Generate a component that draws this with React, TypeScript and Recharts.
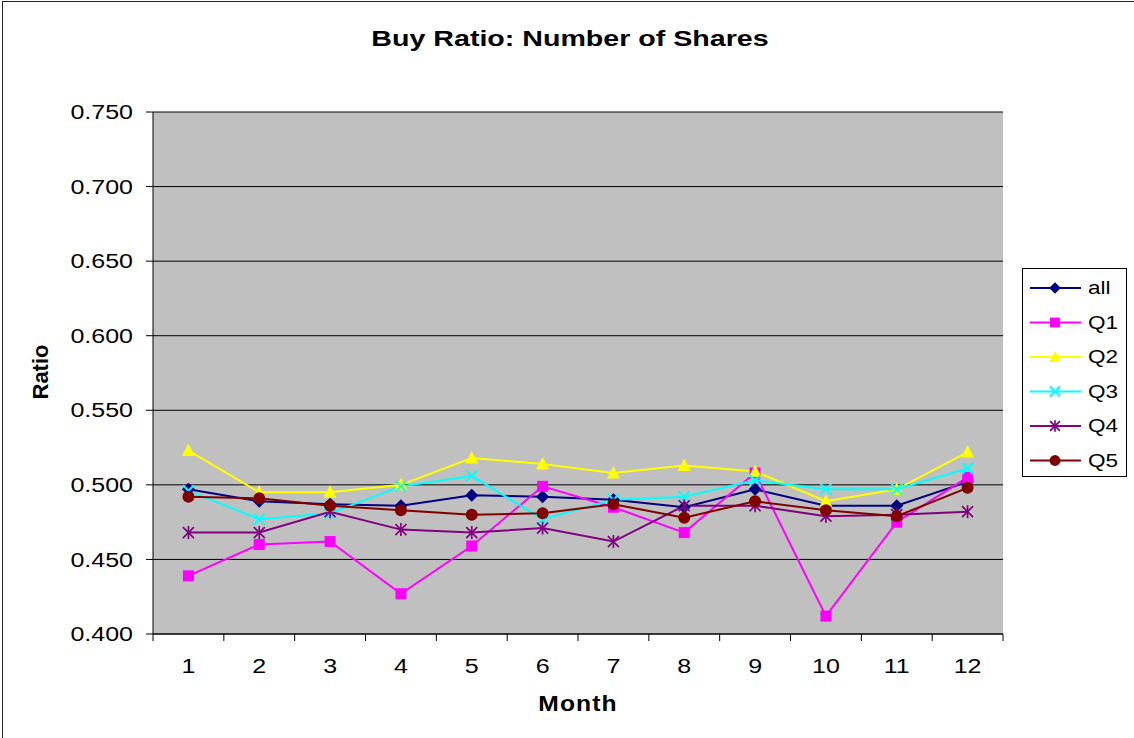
import React from 'react';
import { LineChart, Line, XAxis, YAxis, CartesianGrid } from 'recharts';

const months = [1, 2, 3, 4, 5, 6, 7, 8, 9, 10, 11, 12];
const allSeries = [0.497, 0.489, 0.487, 0.486, 0.493, 0.492, 0.490, 0.485, 0.497, 0.486, 0.486, 0.502];
const q1Series = [0.439, 0.460, 0.462, 0.427, 0.459, 0.499, 0.485, 0.468, 0.508, 0.412, 0.475, 0.505];
const q2Series = [0.523, 0.495, 0.495, 0.500, 0.518, 0.514, 0.508, 0.513, 0.509, 0.489, 0.497, 0.522];
const q3Series = [0.496, 0.477, 0.481, 0.499, 0.506, 0.477, 0.490, 0.492, 0.503, 0.497, 0.497, 0.511];
const q4Series = [0.468, 0.468, 0.482, 0.470, 0.468, 0.471, 0.462, 0.486, 0.486, 0.479, 0.480, 0.482];
const q5Series = [0.492, 0.491, 0.486, 0.483, 0.480, 0.481, 0.487, 0.478, 0.489, 0.483, 0.479, 0.498];
const yTicks = [0.4, 0.45, 0.5, 0.55, 0.6, 0.65, 0.7, 0.75];
const xBoundaries = [0.5, 1.5, 2.5, 3.5, 4.5, 5.5, 6.5, 7.5, 8.5, 9.5, 10.5, 11.5, 12.5];

const data = months.map((m, i) => ({
  month: m,
  all: allSeries[i],
  Q1: q1Series[i],
  Q2: q2Series[i],
  Q3: q3Series[i],
  Q4: q4Series[i],
  Q5: q5Series[i],
}));

type Shape = 'diamond' | 'square' | 'triangle' | 'x' | 'star' | 'circle';
const seriesDefs: { key: string; color: string; shape: Shape }[] = [
  { key: 'all', color: '#000080', shape: 'diamond' },
  { key: 'Q1', color: '#FF00FF', shape: 'square' },
  { key: 'Q2', color: '#FFFF00', shape: 'triangle' },
  { key: 'Q3', color: '#00FFFF', shape: 'x' },
  { key: 'Q4', color: '#800080', shape: 'star' },
  { key: 'Q5', color: '#800000', shape: 'circle' },
];

const FONT = '"Liberation Sans", Arial, sans-serif';

function Marker({ cx, cy, shape, color, scale = 1 }: { cx: number; cy: number; shape: Shape; color: string; scale?: number }) {
  const k = scale;
  switch (shape) {
    case 'diamond':
      return <polygon points={`${cx},${cy - 6.5 * k} ${cx + 6.5 * k},${cy} ${cx},${cy + 6.5 * k} ${cx - 6.5 * k},${cy}`} fill={color} />;
    case 'square':
      return <rect x={cx - 5.5 * k} y={cy - 5.5 * k} width={11 * k} height={11 * k} fill={color} />;
    case 'triangle':
      return <polygon points={`${cx},${cy - 7 * k} ${cx + 6.5 * k},${cy + 5.5 * k} ${cx - 6.5 * k},${cy + 5.5 * k}`} fill={color} />;
    case 'x':
      return (
        <g stroke={color} strokeWidth={2}>
          <line x1={cx - 5.5 * k} y1={cy - 5.5 * k} x2={cx + 5.5 * k} y2={cy + 5.5 * k} />
          <line x1={cx - 5.5 * k} y1={cy + 5.5 * k} x2={cx + 5.5 * k} y2={cy - 5.5 * k} />
        </g>
      );
    case 'star':
      return (
        <g stroke={color} strokeWidth={1.7}>
          <line x1={cx - 5.5 * k} y1={cy - 5.5 * k} x2={cx + 5.5 * k} y2={cy + 5.5 * k} />
          <line x1={cx - 5.5 * k} y1={cy + 5.5 * k} x2={cx + 5.5 * k} y2={cy - 5.5 * k} />
          <line x1={cx} y1={cy - 6.5 * k} x2={cx} y2={cy + 6.5 * k} />
        </g>
      );
    case 'circle':
    default:
      return <circle cx={cx} cy={cy} r={6 * k} fill={color} />;
  }
}

const makeDot = (shape: Shape, color: string, name: string) => (p: any) => {
  if (p.cx == null || p.cy == null) return <g key={`${name}-${p.index}`} />;
  return (
    <g key={`${name}-${p.index}`}>
      <Marker cx={p.cx} cy={p.cy} shape={shape} color={color} />
    </g>
  );
};

const YTick = (p: any) => (
  <text
    transform={`translate(${p.x},${p.y}) scale(1.25,1)`}
    x={0}
    y={0}
    dy="0.36em"
    textAnchor="end"
    fontFamily={FONT}
    fontSize={20}
    fill="#000"
  >
    {Number(p.payload.value).toFixed(3)}
  </text>
);

const XTick = (p: any) => {
  const idx = p.index;
  if (idx >= months.length) return <g />;
  const band = (Number(p.width) || 850) / months.length;
  const x = p.x + band / 2;
  return (
    <text
      transform={`translate(${x},${p.y}) scale(1.25,1)`}
      x={0}
      y={0}
      dy={32}
      textAnchor="middle"
      fontFamily={FONT}
      fontSize={20}
      fill="#000"
    >
      {months[idx]}
    </text>
  );
};

function LegendBox() {
  return (
    <div
      style={{
        position: 'absolute',
        left: 1022,
        top: 268,
        width: 105,
        height: 209,
        border: '1px solid #000',
        boxSizing: 'border-box',
        background: '#fff',
      }}
    >
      <svg width={103} height={207} style={{ position: 'absolute', left: 0, top: 0 }}>
        {seriesDefs.map((s, i) => {
          const cy = 19 + i * 34.5;
          return (
            <g key={s.key}>
              <line x1={7} y1={cy} x2={58} y2={cy} stroke={s.color} strokeWidth={2} />
              <Marker cx={32} cy={cy} shape={s.shape} color={s.color} scale={0.9} />
              <text
                transform={`translate(65,${cy}) scale(1.25,1)`}
                x={0}
                y={0}
                dy="0.36em"
                fontFamily={FONT}
                fontSize={18}
                fill="#000"
              >
                {s.key}
              </text>
            </g>
          );
        })}
      </svg>
    </div>
  );
}

export default function App() {
  return (
    <div
      style={{
        position: 'absolute',
        left: 0,
        top: 0,
        width: 1134,
        height: 738,
        background: '#fff',
        fontFamily: FONT,
        overflow: 'hidden',
      }}
    >
      <div
        style={{
          position: 'absolute',
          left: 2,
          top: 1,
          width: 1140,
          height: 745,
          borderLeft: '1.5px solid #222',
          borderTop: '1.5px solid #222',
        }}
      />
      <LineChart
        width={1134}
        height={738}
        data={data}
        margin={{ top: 112, right: 131, bottom: 44, left: 93 }}
      >
        <CartesianGrid
          vertical={false}
          horizontal={true}
          stroke="#000"
          strokeWidth={1}
          fill="#C0C0C0"
          fillOpacity={1}
        />
        <XAxis
          dataKey="month"
          type="number"
          domain={[0.5, 12.5]}
          ticks={xBoundaries}
          interval={0}
          height={60}
          tickSize={7}
          tickMargin={0}
          axisLine={{ stroke: '#000', strokeWidth: 1 }}
          tickLine={{ stroke: '#000', strokeWidth: 1 }}
          tick={<XTick />}
        />
        <XAxis
          xAxisId="top"
          orientation="top"
          type="number"
          domain={[0, 1]}
          height={0}
          tick={false}
          tickLine={false}
          axisLine={{ stroke: '#808080', strokeWidth: 1 }}
        />
        <YAxis
          type="number"
          domain={[0.4, 0.75]}
          ticks={yTicks}
          interval={0}
          width={60}
          tickSize={7}
          tickMargin={13}
          axisLine={{ stroke: '#000', strokeWidth: 1 }}
          tickLine={{ stroke: '#000', strokeWidth: 1 }}
          tick={<YTick />}
        />
        <YAxis
          yAxisId="right"
          orientation="right"
          type="number"
          domain={[0, 1]}
          width={0}
          tick={false}
          tickLine={false}
          axisLine={{ stroke: '#808080', strokeWidth: 1 }}
        />
        {seriesDefs.map((s) => (
          <Line
            key={s.key}
            type="linear"
            dataKey={s.key}
            stroke={s.color}
            strokeWidth={2}
            dot={makeDot(s.shape, s.color, s.key)}
            activeDot={false}
            isAnimationActive={false}
          />
        ))}
      </LineChart>
      <div
        style={{
          position: 'absolute',
          left: 570,
          top: 28,
          fontSize: 22,
          lineHeight: '22px',
          fontWeight: 'bold',
          whiteSpace: 'nowrap',
          transform: 'translateX(-50%) scaleX(1.3)',
        }}
      >
        Buy Ratio: Number of Shares
      </div>
      <div
        style={{
          position: 'absolute',
          left: 578,
          top: 693,
          fontSize: 22,
          lineHeight: '22px',
          fontWeight: 'bold',
          whiteSpace: 'nowrap',
          letterSpacing: '1px',
          transform: 'translateX(-50%) scaleX(1.12)',
        }}
      >
        Month
      </div>
      <div
        style={{
          position: 'absolute',
          left: 41,
          top: 372,
          fontSize: 22,
          lineHeight: '22px',
          fontWeight: 'bold',
          whiteSpace: 'nowrap',
          transform: 'translate(-50%, -50%) rotate(-90deg)',
        }}
      >
        Ratio
      </div>
      <LegendBox />
    </div>
  );
}
